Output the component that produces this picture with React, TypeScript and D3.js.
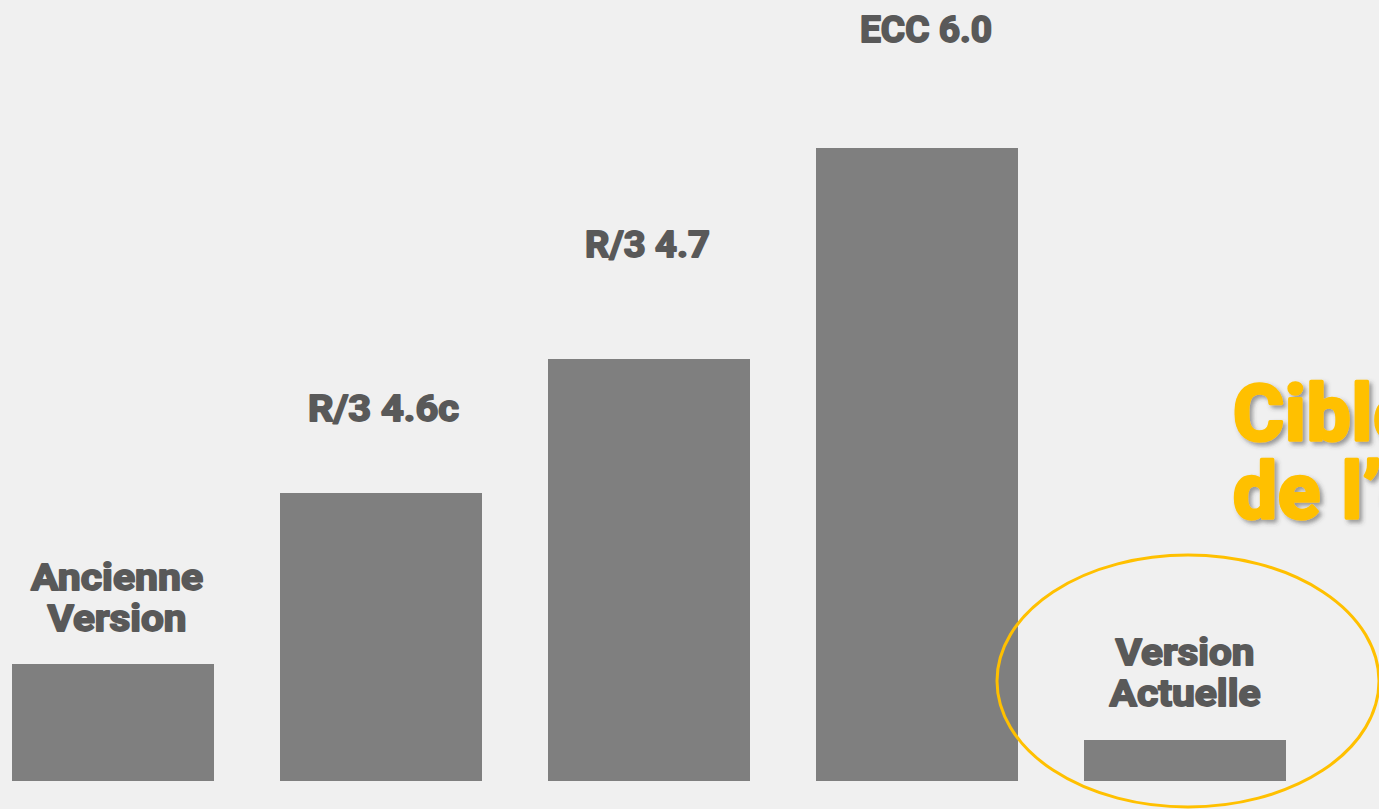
import React, { useEffect, useRef } from "react";
import * as d3 from "d3";

const categories = ["Ancienne Version", "R/3 4.6c", "R/3 4.7", "ECC 6.0", "Version Actuelle"];
const labelLines = [["Ancienne", "Version"], ["R/3 4.6c"], ["R/3 4.7"], ["ECC 6.0"], ["Version", "Actuelle"]];
const values = [117, 288, 422, 633, 41];
const highlightCategory = "Version Actuelle";
const calloutLines = ["Cible", "de l’évolution"];

// layout (pixels)
const labelGaps = [33, 72, 102, 106, 34];
const labelDx = [4, 2.5, -1.5, 9, 0];
const labelWidths = [[174, 141], [153], [127], [134], [141, 153]];

const W = 1379;
const H = 809;
const FONT = "Roboto, 'Liberation Sans', sans-serif";

export default function App() {
  const ref = useRef<SVGSVGElement>(null);

  useEffect(() => {
    document.body.style.margin = "0";
    const svg = d3.select(ref.current);
    svg.selectAll("*").remove();

    const x = d3.scaleBand<string>().domain(categories).range([12, 1286]).paddingInner(66 / 268).paddingOuter(0);
    const y = d3.scaleLinear().domain([0, d3.max(values)!]).range([781, 148]);

    const defs = svg.append("defs");
    const f = defs.append("filter").attr("id", "shadow").attr("x", "-20%").attr("y", "-20%").attr("width", "140%").attr("height", "140%");
    f.append("feDropShadow").attr("dx", 3).attr("dy", 3).attr("stdDeviation", 2).attr("flood-color", "#404040").attr("flood-opacity", 0.5);

    svg.append("rect").attr("width", W).attr("height", H).attr("fill", "#f0f0f0");

    const data = categories.map((c, i) => ({ c, v: values[i], lines: labelLines[i], gap: labelGaps[i], dx: labelDx[i], widths: labelWidths[i] }));

    svg.append("g").selectAll("rect").data(data).join("rect")
      .attr("x", d => x(d.c)!)
      .attr("width", x.bandwidth())
      .attr("y", d => y(d.v))
      .attr("height", d => y(0) - y(d.v))
      .attr("fill", "#7f7f7f");

    const lh = 41;
    const lg = svg.append("g")
      .attr("font-family", FONT)
      .attr("font-weight", 700)
      .attr("font-size", 37)
      .attr("fill", "#595959")
      .attr("stroke", "#595959")
      .attr("stroke-width", 1.8)
      .attr("stroke-linejoin", "round")
      .attr("text-anchor", "middle");
    data.forEach(d => {
      const cx = x(d.c)! + x.bandwidth() / 2 + d.dx;
      const lastBase = y(d.v) - d.gap;
      d.lines.forEach((t, j) => {
        lg.append("text")
          .attr("x", cx)
          .attr("y", lastBase - (d.lines.length - 1 - j) * lh)
          .attr("textLength", d.widths[j] - 2)
          .attr("lengthAdjust", "spacingAndGlyphs")
          .text(t);
      });
    });

    const hx = x(highlightCategory)! + x.bandwidth() / 2;
    svg.append("ellipse")
      .attr("cx", hx + 3)
      .attr("cy", 681)
      .attr("rx", 191)
      .attr("ry", 126)
      .attr("fill", "none")
      .attr("stroke", "#ffc000")
      .attr("stroke-width", 3);

    const cg = svg.append("g")
      .attr("font-family", FONT)
      .attr("font-weight", 700)
      .attr("font-size", 78)
      .attr("fill", "#ffc000")
      .attr("stroke", "#ffc000")
      .attr("stroke-width", 3.5)
      .attr("stroke-linejoin", "round")
      .attr("filter", "url(#shadow)");
    calloutLines.forEach((t, j) => {
      cg.append("text").attr("x", 1233).attr("y", 440 + j * 78).attr("letter-spacing", 1).text(t);
    });
  }, []);

  return (
    <div style={{ position: "fixed", left: 0, top: 0 }}>
      <svg ref={ref} width={W} height={H} style={{ display: "block" }} />
    </div>
  );
}
